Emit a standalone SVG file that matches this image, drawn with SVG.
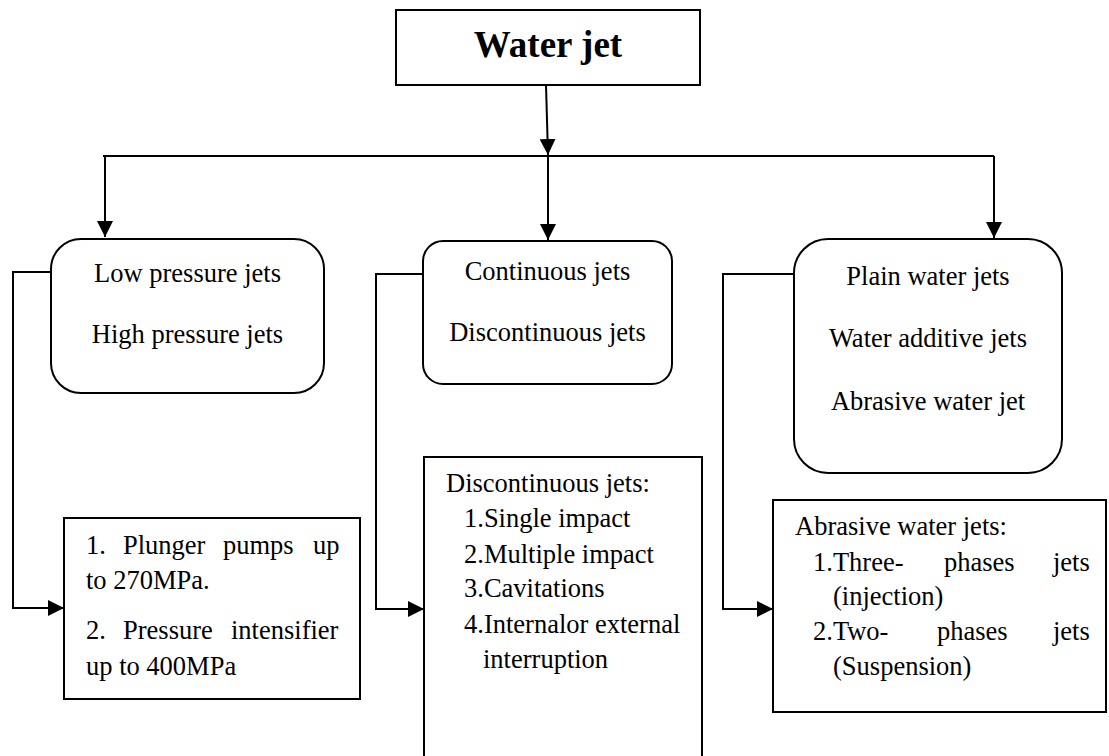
<svg xmlns="http://www.w3.org/2000/svg" width="1109" height="756" viewBox="0 0 1109 756">
<defs>
<style>
.box{fill:#fff;stroke:#000;stroke-width:2}
.conn{fill:none;stroke:#000;stroke-width:2}
text{font-family:"Liberation Serif","Times New Roman",serif;font-size:26.5px;fill:#000}
.c{text-anchor:middle}
.title{font-size:37px;font-weight:bold}
</style>
<marker id="ah" markerUnits="userSpaceOnUse" markerWidth="16" markerHeight="16" viewBox="0 0 16 16" refX="16" refY="8" orient="auto">
<path d="M0,0 L16,8 L0,16 Z" fill="#000"/>
</marker>
</defs>
<rect width="1109" height="756" fill="#fff"/>
<g id="connectors">
<path class="conn" d="M546,85 L548,155" marker-end="url(#ah)"/>
<path class="conn" d="M103,156 H994"/>
<path class="conn" d="M105,156 V237" marker-end="url(#ah)"/>
<path class="conn" d="M548,156 V240" marker-end="url(#ah)"/>
<path class="conn" d="M994,156 V238" marker-end="url(#ah)"/>
<path class="conn" d="M51,272 H13 V608 H64" marker-end="url(#ah)"/>
<path class="conn" d="M423,274 H376 V609 H424" marker-end="url(#ah)"/>
<path class="conn" d="M794,274 H723 V609 H773" marker-end="url(#ah)"/>
</g>
<g id="water-jet">
<rect class="box" x="396" y="10" width="304" height="75"/>
<text class="c title" x="548" y="57">Water jet</text>
</g>
<g id="pressure">
<rect class="box" x="51" y="239" width="273" height="154" rx="30" ry="30"/>
<text class="c" x="187.5" y="282">Low pressure jets</text>
<text class="c" x="187.5" y="343">High pressure jets</text>
</g>
<g id="continuity">
<rect class="box" x="423" y="241" width="249" height="143" rx="20" ry="20"/>
<text class="c" x="547.5" y="280">Continuous jets</text>
<text class="c" x="547.5" y="341">Discontinuous jets</text>
</g>
<g id="medium">
<rect class="box" x="794" y="239" width="268" height="234" rx="34" ry="34"/>
<text class="c" x="928" y="285">Plain water jets</text>
<text class="c" x="928" y="347">Water additive jets</text>
<text class="c" x="928" y="410">Abrasive water jet</text>
</g>
<g id="pumps">
<rect class="box" x="64" y="518" width="296" height="181"/>
<text y="554"><tspan x="86">1.</tspan><tspan x="123">Plunger</tspan><tspan x="223">pumps</tspan><tspan x="313">up</tspan></text>
<text x="86" y="589">to 270MPa.</text>
<text y="639"><tspan x="86">2.</tspan><tspan x="123">Pressure</tspan><tspan x="231">intensifier</tspan></text>
<text x="86" y="675">up to 400MPa</text>
</g>
<g id="discontinuous">
<rect class="box" x="424" y="457" width="278" height="310"/>
<text x="446" y="492">Discontinuous jets:</text>
<text x="464" y="527">1.Single impact</text>
<text x="464" y="563">2.Multiple impact</text>
<text x="464" y="597">3.Cavitations</text>
<text x="464" y="633">4.Internalor external</text>
<text x="483" y="668">interruption</text>
</g>
<g id="abrasive">
<rect class="box" x="773" y="500" width="333" height="212"/>
<text x="795" y="535">Abrasive water jets:</text>
<text y="571"><tspan x="813">1.Three-</tspan><tspan x="944">phases</tspan><tspan x="1053">jets</tspan></text>
<text x="833" y="605">(injection)</text>
<text y="640"><tspan x="813">2.Two-</tspan><tspan x="937">phases</tspan><tspan x="1053">jets</tspan></text>
<text x="833" y="675">(Suspension)</text>
</g>
</svg>
